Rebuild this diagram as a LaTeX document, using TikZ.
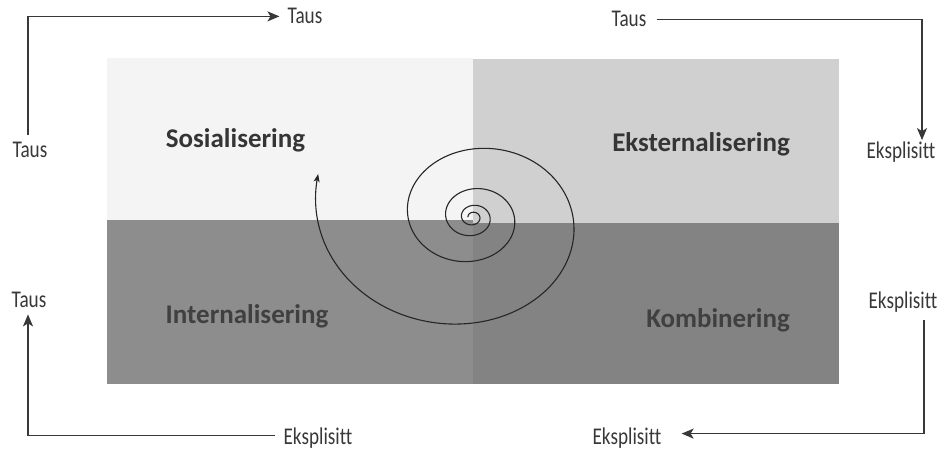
\documentclass[tikz,border=0pt]{standalone}
\usepackage{fontspec}
\setmainfont{Carlito}
\newfontfamily\axfont{Carlito}[FakeStretch=0.8, Ligatures=NoCommon]
\usetikzlibrary{arrows.meta}
\definecolor{qTL}{HTML}{F4F4F4}
\definecolor{qTR}{HTML}{D0D0D0}
\definecolor{qBL}{HTML}{8D8D8D}
\definecolor{qBR}{HTML}{838383}
\definecolor{lblTop}{HTML}{353535}
\definecolor{lblBot}{HTML}{404040}
\definecolor{axcol}{HTML}{383838}
\begin{document}
\begin{tikzpicture}[x=1pt,y=-1pt,
  axlabel/.style={inner sep=0pt, anchor=base, text=axcol, font=\axfont\fontsize{24}{28}\selectfont},
  qlabel/.style={inner sep=0pt, font=\bfseries\fontsize{27}{32}\selectfont},
  axline/.style={draw=axcol, line width=1.5pt, -{Stealth[length=12pt,width=10pt,inset=3pt]}},
  spiral/.style={draw=black!85, line width=1.1pt, -{Stealth[length=8pt,width=6pt,inset=2pt]}}]
\useasboundingbox (0,0) rectangle (945,452);
% quadrants
\fill[qTL] (107,58) rectangle (473,220);
\fill[qTR] (473,59) rectangle (839,223);
\fill[qBL] (107,220) rectangle (473,384);
\fill[qBR] (473,223) rectangle (839,384);
% quadrant labels
\node[qlabel, text=lblTop, anchor=base] (sos) at (235.5,147) {Sosialisering};
\node[qlabel, text=lblTop, anchor=base east] (eks) at (790,151) {Eksternalisering};
\node[qlabel, text=lblBot, anchor=base] (int) at (247,323) {Internalisering};
\node[qlabel, text=lblBot, anchor=base east] (kom) at (790,327) {Kombinering};
% axis labels
\node[axlabel] (tausL) at (30,157) {Taus};
\node[axlabel] (tausT) at (305,24) {Taus};
\node[axlabel] (tausTR) at (629,27) {Taus};
\node[axlabel] (eksR) at (901,158) {Eksplisitt};
\node[axlabel] (eksR2) at (903,308) {Eksplisitt};
\node[axlabel] (eksB) at (627,444) {Eksplisitt};
\node[axlabel] (eksBL) at (318,444) {Eksplisitt};
\node[axlabel] (tausBL) at (29,307) {Taus};
% axis connectors
\draw[axline, shorten <=6pt, shorten >=8pt] ([xshift=-2pt]tausL.north) |- (tausT.west);
\draw[axline, shorten <=10pt, shorten >=1pt] (tausTR.east) -| ([xshift=21pt]eksR.north);
\draw[axline, shorten <=8pt, shorten >=20pt] ([xshift=21pt]eksR2.south) |- ([yshift=4pt]eksB.east);
\draw[axline, shorten <=8pt, shorten >=7pt] ([yshift=2pt]eksBL.west) -| ([xshift=-1pt]tausBL.south);
% spiral
\draw[spiral] plot[domain=-12:4.21, samples=500, smooth, variable=\s]
  ({472.7 + 64.67*exp(0.2196*\s)*cos(180+90*\s)}, {217.2 + 0.847*64.67*exp(0.2196*\s)*sin(180+90*\s)});
\end{tikzpicture}
\end{document}
